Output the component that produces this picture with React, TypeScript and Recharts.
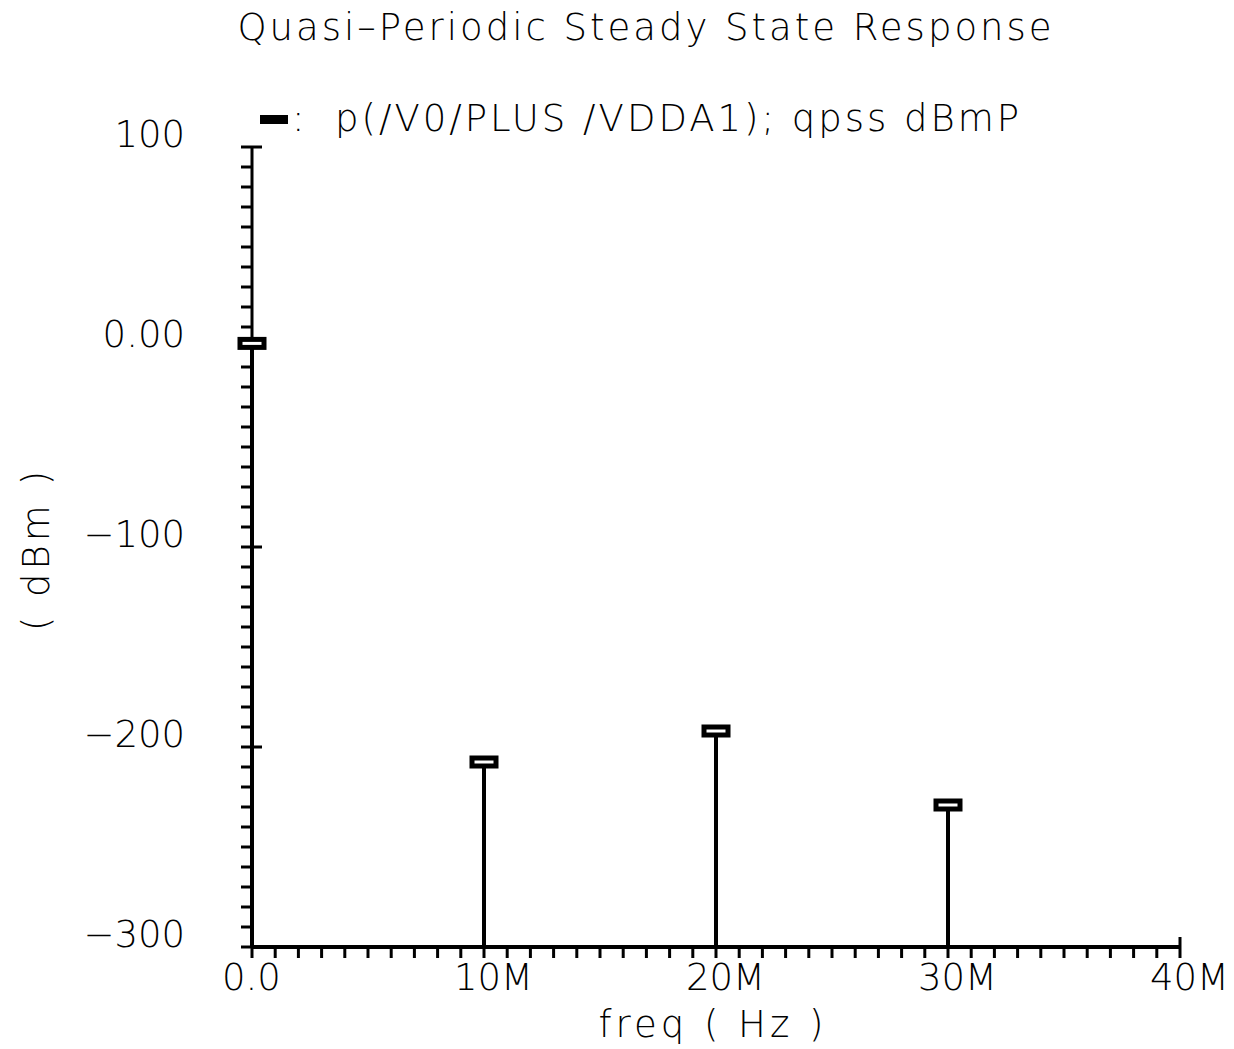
import React from 'react';
import { ComposedChart, XAxis, YAxis, Scatter, ReferenceLine } from 'recharts';

// spectral lines
const freqs = [0, 10e6, 20e6, 30e6];
const dbm = [1.8, -207.5, -192, -229];

const xMajorTicks = [0, 10e6, 20e6, 30e6, 40e6];
const xTickLabels = ['0.0', '10M', '20M', '30M', '40M'];
const yMajorTicks = [-300, -200, -100, 0, 100];
const yTickLabels = ['\u2212300', '\u2212200', '\u2212100', '0.00', '100'];

const xMinorTicks = Array.from({ length: 41 }, (_, i) => i * 1e6);
const yMinorTicks = Array.from({ length: 41 }, (_, i) => -300 + i * 10);

const title = 'Quasi\u2013Periodic Steady State Response';
const legendText = 'p(/V0/PLUS /VDDA1); qpss dBmP';
const xLabel = 'freq ( Hz )';
const yLabel = '( dBm )';

const FONT = '"DejaVu Sans", sans-serif';
const W = 1234;
const H = 1049;

const data = freqs.map((f, i) => ({ freq: f, dbm: dbm[i] }));

function YTick({ x, y, payload }: any) {
  const i = yMajorTicks.indexOf(payload.value);
  const major = i >= 0;
  return (
    <g>
      <line x1={x - 11} x2={major ? x + 10 : x} y1={y} y2={y} stroke="#000" strokeWidth={3} />
      {major && (
        <text x={x - 67} y={y} textAnchor="end" fontFamily={FONT} fontWeight={200} fontSize={37} fill="#000">
          {yTickLabels[i]}
        </text>
      )}
    </g>
  );
}

function XTick({ x, y, payload }: any) {
  const i = xMajorTicks.indexOf(payload.value);
  const major = i >= 0;
  return (
    <g>
      <line x1={x} x2={x} y1={major ? y - 10 : y} y2={y + 11} stroke="#000" strokeWidth={3} />
      {major && (
        <text x={x - 30} y={y + 43} textAnchor="start" fontFamily={FONT} fontWeight={200} fontSize={37} fill="#000">
          {xTickLabels[i]}
        </text>
      )}
    </g>
  );
}

function Marker({ cx, cy }: any) {
  return <rect x={cx - 12} y={cy - 4} width={24} height={8} fill="#fff" stroke="#000" strokeWidth={5} />;
}

export default function App() {
  return (
    <div style={{ position: 'absolute', left: 0, top: 0, width: W, height: H, background: '#fff' }}>
      <ComposedChart width={W} height={H} data={data} margin={{ top: 147, right: 54, bottom: 101, left: 251 }}>
        <XAxis
          type="number"
          dataKey="freq"
          domain={[0, 40e6]}
          ticks={xMinorTicks}
          interval={0}
          height={1}
          tickSize={0}
          tickMargin={0}
          tickLine={false}
          axisLine={{ stroke: '#000', strokeWidth: 4 }}
          tick={(p: any) => <XTick {...p} />}
        />
        <YAxis
          type="number"
          dataKey="dbm"
          domain={[-300, 100]}
          ticks={yMinorTicks}
          interval={0}
          width={1}
          tickSize={0}
          tickMargin={0}
          tickLine={false}
          axisLine={{ stroke: '#000', strokeWidth: 3 }}
          tick={(p: any) => <YTick {...p} />}
        />
        {data.map((d) => (
          <ReferenceLine
            key={d.freq}
            segment={[{ x: d.freq, y: yMajorTicks[0] }, { x: d.freq, y: d.dbm }]}
            stroke="#000"
            strokeWidth={4}
          />
        ))}
        <Scatter dataKey="dbm" shape={(p: any) => <Marker {...p} />} isAnimationActive={false} />
      </ComposedChart>
      <svg width={W} height={H} style={{ position: 'absolute', left: 0, top: 0, pointerEvents: 'none' }}>
        <text x={646} y={40} textAnchor="middle" fontFamily={FONT} fontWeight={200} fontSize={37} letterSpacing={3} fill="#000">
          {title}
        </text>
        <rect x={260} y={115} width={28} height={9} fill="#000" />
        <text x={292} y={131} fontFamily={FONT} fontWeight={200} fontSize={37} fill="#000">:</text>
        <text x={335} y={131} fontFamily={FONT} fontWeight={200} fontSize={37} letterSpacing={3} fill="#000">
          {legendText}
        </text>
        <text x={713} y={1037} textAnchor="middle" fontFamily={FONT} fontWeight={200} fontSize={37} letterSpacing={4} fill="#000">
          {xLabel}
        </text>
        <text
          transform="translate(49,549) rotate(-90)"
          textAnchor="middle"
          fontFamily={FONT}
          fontWeight={200}
          fontSize={37}
          letterSpacing={4}
          fill="#000"
        >
          {yLabel}
        </text>
      </svg>
    </div>
  );
}
